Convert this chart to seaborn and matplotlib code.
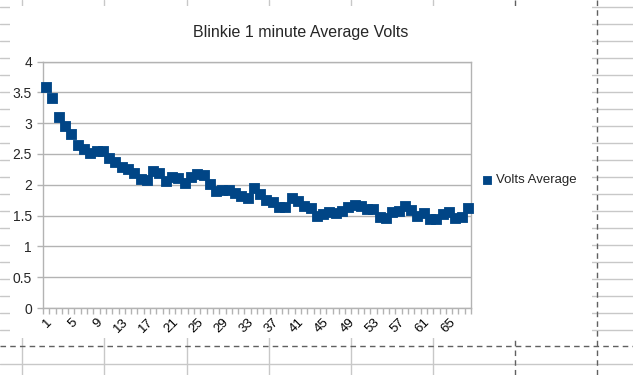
import matplotlib
matplotlib.use('Agg')
import matplotlib.pyplot as plt
import seaborn as sns
import pandas as pd
import numpy as np
from matplotlib.lines import Line2D
from matplotlib.patches import Rectangle

# ---- data ----
categories = list(range(1, 69))
volts_average = [3.58, 3.41, 3.10, 2.96, 2.83, 2.65, 2.58, 2.52, 2.55, 2.55,
                 2.43, 2.37, 2.28, 2.25, 2.19, 2.10, 2.08, 2.22, 2.19, 2.06,
                 2.12, 2.11, 2.03, 2.13, 2.18, 2.16, 2.02, 1.90, 1.92, 1.92,
                 1.87, 1.81, 1.79, 1.94, 1.85, 1.75, 1.72, 1.64, 1.64, 1.79,
                 1.73, 1.65, 1.62, 1.50, 1.52, 1.56, 1.54, 1.58, 1.64, 1.67,
                 1.65, 1.60, 1.60, 1.48, 1.46, 1.56, 1.58, 1.65, 1.59, 1.50,
                 1.54, 1.44, 1.45, 1.53, 1.55, 1.46, 1.47, 1.62]
y_ticks = [0, 0.5, 1, 1.5, 2, 2.5, 3, 3.5, 4]
y_tick_labels = ['0', '0.5', '1', '1.5', '2', '2.5', '3', '3.5', '4']
title = 'Blinkie 1 minute Average Volts'
series_name = 'Volts Average'

df = pd.DataFrame({'pos': np.arange(len(categories)), 'cat': categories,
                   'value': volts_average})

sns.set_theme(style='white')
plt.rcParams['font.family'] = ['Liberation Sans', 'DejaVu Sans']

W, H = 633, 375
fig = plt.figure(figsize=(W / 100, H / 100), dpi=100)

def fx(x):
    return x / W

def fy(y):
    return 1 - y / H

# ---- spreadsheet background ----
grid_c = '#c8c8c8'
for k in range(23):
    y = 6.7 + 17 * k
    if abs(y - 346) < 3:
        continue
    fig.add_artist(Line2D([0, 1], [fy(y)] * 2, color=grid_c, lw=1, zorder=-3))
for x in [22, 104, 187, 269, 351, 433]:
    fig.add_artist(Line2D([fx(x)] * 2, [0, 1], color=grid_c, lw=1, zorder=-3))
for x in [515, 597]:
    fig.add_artist(Line2D([fx(x)] * 2, [0, 1], color='#606060', lw=1,
                          ls=(0, (4, 3)), zorder=-3))
fig.add_artist(Line2D([0, 1], [fy(346)] * 2, color='#606060', lw=1,
                      ls=(0, (4, 3)), zorder=-3))
# chart object area (white)
fig.add_artist(Rectangle((fx(10), fy(338)), fx(592) - fx(10), fy(6) - fy(338),
                         transform=fig.transFigure, facecolor='white',
                         edgecolor='none', zorder=-2))

# ---- plot ----
left, right, top, bottom = 43, 471, 61.5, 308
ax = fig.add_axes([fx(left), fy(bottom), fx(right) - fx(left), fy(top) - fy(bottom)])
sns.scatterplot(data=df, x='pos', y='value', marker='s', s=48,
                color='#004586', edgecolor='#004586', linewidth=0.6,
                label=series_name, ax=ax, zorder=3, clip_on=False)

n = len(categories)
ax.set_xlim(-0.5, n - 0.5)
ax.set_ylim(0, 4)
ax.set_yticks(y_ticks)
ax.set_yticklabels(y_tick_labels)
ax.set_xticks(np.arange(-0.5, n, 1), minor=True)
lab_pos = np.arange(0, n, 4)
ax.set_xticks(lab_pos)
ax.set_xticklabels([str(categories[i]) for i in lab_pos], rotation=45,
                   ha='right', rotation_mode='anchor')
ax.tick_params(axis='x', which='major', length=0, labelsize=9.5,
               colors='#000000', pad=6)
ax.tick_params(axis='x', which='minor', length=4, color='#b3b3b3', width=1,
               direction='out', bottom=True)
ax.tick_params(axis='y', which='major', length=4, color='#b3b3b3', width=1,
               direction='out', left=True, labelsize=10, pad=4)
ax.yaxis.grid(True, color='#b3b3b3', lw=1)
ax.set_axisbelow(True)
for sp in ax.spines.values():
    sp.set_color('#b3b3b3')
    sp.set_linewidth(1)
ax.set_xlabel('')
ax.set_ylabel('')

leg = ax.legend(loc='center left', bbox_to_anchor=(fx(482), fy(180)),
                bbox_transform=fig.transFigure, frameon=False,
                handlelength=0.8, handletextpad=0.25, borderpad=0,
                borderaxespad=0, fontsize=9.5, markerscale=0.8)

fig.text(fx(301), fy(33), title, ha='center', va='center', fontsize=11.5)

fig.savefig('out.png', dpi=100)
